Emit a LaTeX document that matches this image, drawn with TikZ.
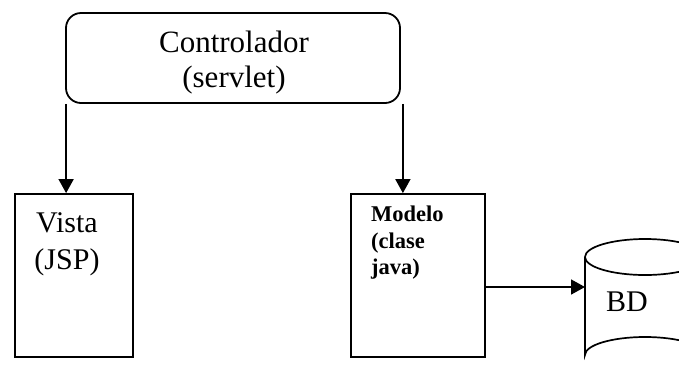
\documentclass[tikz,border=0pt]{standalone}
\usepackage{fontspec}
\setmainfont{Liberation Serif}
\usetikzlibrary{arrows.meta}
\begin{document}
\begin{tikzpicture}[x=1pt,y=-1pt,
  box/.style={draw, line width=1.8pt, inner sep=0pt},
  arr/.style={line width=1.6pt, -{Triangle[length=14pt,width=15pt]}},
  bigtxt/.style={font=\fontsize{30}{37}\selectfont, align=center, inner sep=0pt},
  boldtxt/.style={font=\fontsize{22.5}{26.5}\selectfont\bfseries, align=left, inner sep=0pt, anchor=north west}]
\useasboundingbox (0,0) rectangle (679,373);

% controller
\node[box, rounded corners=15pt, minimum width=334pt, minimum height=90pt] (ctrl) at (233,58) {};
\node[bigtxt, font=\fontsize{31}{35}\selectfont] (ctrltxt) at (234,63) {Controlador\\(servlet)};

% view
\node[box, minimum width=118pt, minimum height=163pt] (vista) at (74,275.5) {};
\node[bigtxt] (vistatxt) at (67,244) {Vista\\(JSP)};

% model
\node[box, minimum width=134pt, minimum height=163pt] (modelo) at (418,275.5) {};
\node[boldtxt] (modelotxt) at (371,206) {Modelo\\(clase\\java)};

% database cylinder
\coordinate (bdl) at (585,287);
\draw[line width=1.7pt] (585,257) -- (585,355) arc[start angle=180, end angle=360, x radius=60, y radius=18] -- (705,257);
\draw[line width=1.7pt] (645,257) ellipse[x radius=60, y radius=18];
\node[font=\fontsize{30}{34}\selectfont, inner sep=0pt] (bd) at (627,302) {BD};

% connectors
\draw[arr] ([xshift=1pt]ctrl.south west) -- ([xshift=1pt]ctrl.south west |- vista.north);
\draw[arr] ([xshift=2pt]ctrl.south east) -- ([xshift=2pt]ctrl.south east |- modelo.north);
\draw[arr] (modelo.east |- bdl) -- (bdl);
\end{tikzpicture}
\end{document}
